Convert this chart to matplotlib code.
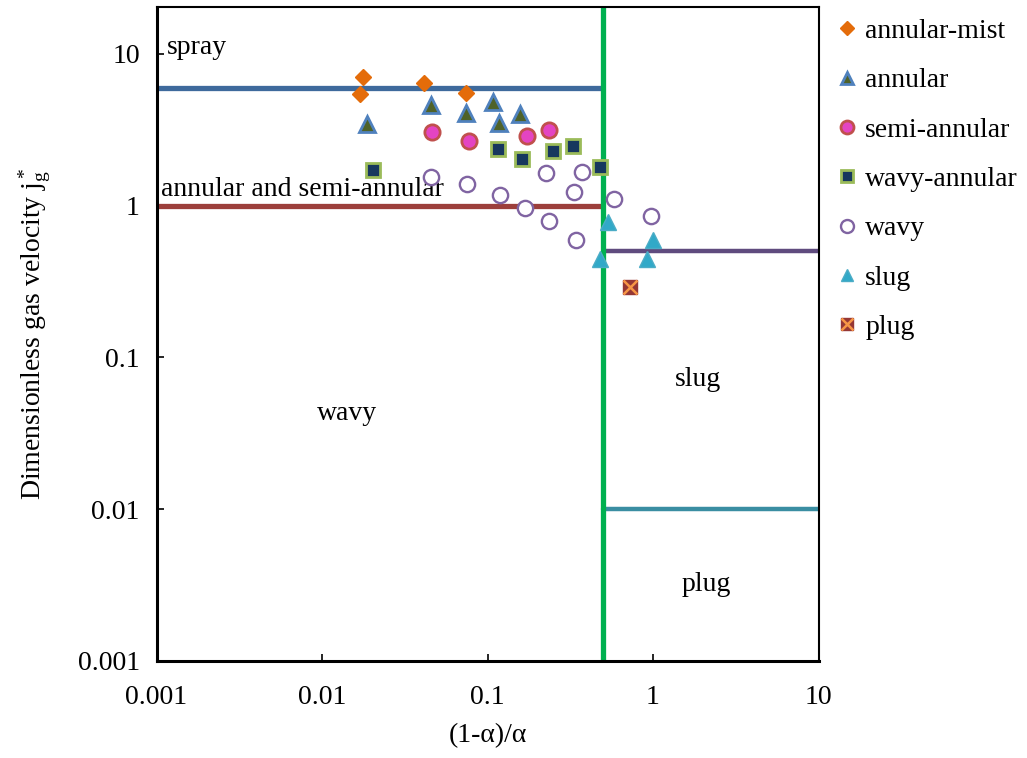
import matplotlib.pyplot as plt

plt.rcParams['font.family'] = ['Liberation Serif', 'DejaVu Serif']
plt.rcParams['mathtext.fontset'] = 'custom'
plt.rcParams['mathtext.rm'] = 'Liberation Serif'
plt.rcParams['mathtext.it'] = 'Liberation Serif:italic'

# flow pattern observations: x = (1-a)/a, y = j_g*
annular_mist_x = [0.0177, 0.0169, 0.0413, 0.0745]
annular_mist_y = [7.08, 5.42, 6.41, 5.50]

annular_x = [0.0186, 0.0454, 0.0745, 0.1086, 0.117, 0.158]
annular_y = [3.45, 4.61, 4.10, 4.84, 3.49, 4.02]

semi_annular_x = [0.0462, 0.0772, 0.1725, 0.236]
semi_annular_y = [3.07, 2.68, 2.89, 3.15]

wavy_annular_x = [0.0204, 0.115, 0.1625, 0.247, 0.328, 0.480]
wavy_annular_y = [1.73, 2.36, 2.03, 2.29, 2.48, 1.80]

wavy_x = [0.0458, 0.0755, 0.119, 0.169, 0.226, 0.234, 0.334, 0.371, 0.341, 0.582, 0.968]
wavy_y = [1.55, 1.38, 1.17, 0.967, 1.64, 0.794, 1.24, 1.67, 0.598, 1.10, 0.853]

slug_x = [0.536, 0.478, 1.0, 0.925]
slug_y = [0.782, 0.448, 0.598, 0.448]

plug_x = [0.726]
plug_y = [0.291]

# regime boundaries
x_trans = 0.5
spray_y = 6.0
annular_y_lim = 1.0
slug_y_lim = 0.5
plug_y_lim = 0.01

FS = 20

fig = plt.figure(figsize=(10.27, 7.58), dpi=100)
ax = fig.add_axes([0.1524, 0.1280, 0.6446, 0.8628])
ax.set_xscale('log')
ax.set_yscale('log')
ax.set_xlim(0.001, 10)
ax.set_ylim(0.001, 20.4)

ax.plot([0.001, x_trans], [spray_y, spray_y], color='#3E6A9C', lw=3.8, solid_capstyle='butt', zorder=2)
ax.plot([0.001, x_trans], [annular_y_lim, annular_y_lim], color='#9C3F3B', lw=3.8, solid_capstyle='butt', zorder=2)
ax.plot([x_trans, 10], [slug_y_lim, slug_y_lim], color='#5F4B7E', lw=3.2, solid_capstyle='butt', zorder=2)
ax.plot([x_trans, 10], [plug_y_lim, plug_y_lim], color='#3A8EA2', lw=3.2, solid_capstyle='round', zorder=2)
ax.axvline(x_trans, color='#00B050', lw=3.8, zorder=2)

h1, = ax.plot(annular_mist_x, annular_mist_y, 'D', ms=8.5, mfc='#E46C0A', mec='#E46C0A', ls='none', zorder=4)
h2, = ax.plot(annular_x, annular_y, '^', ms=11, mfc='#4F6228', mec='#4F81BD', mew=2.0, ls='none', zorder=4)
h3, = ax.plot(semi_annular_x, semi_annular_y, 'o', ms=11, mfc='#E444C2', mec='#C0504D', mew=2.0, ls='none', zorder=4)
h4, = ax.plot(wavy_annular_x, wavy_annular_y, 's', ms=10, mfc='#17375E', mec='#9BBB59', mew=2.0, ls='none', zorder=4)
h5, = ax.plot(wavy_x, wavy_y, 'o', ms=11, mfc='white', mec='#8064A2', mew=1.7, ls='none', zorder=4)
h6, = ax.plot(slug_x, slug_y, '^', ms=11, mfc='#31A9C8', mec='#4BACC6', mew=1.0, ls='none', zorder=4)
h7a, = ax.plot(plug_x, plug_y, 's', ms=10, mfc='#953735', mec='#953735', ls='none', zorder=4)
h7b, = ax.plot(plug_x, plug_y, 'x', ms=10, mec='#F79646', mew=1.8, ls='none', zorder=5)

ax.text(0.00116, 11.1, 'spray', fontsize=FS, va='center', ha='left')
ax.text(0.00106, 1.27, 'annular and semi-annular', fontsize=FS, va='center', ha='left')
ax.text(0.01416, 0.0425, 'wavy', fontsize=FS, va='center', ha='center')
ax.text(1.87, 0.0711, 'slug', fontsize=FS, va='center', ha='center')
ax.text(2.09, 0.00317, 'plug', fontsize=FS, va='center', ha='center')

ax.set_xticks([0.001, 0.01, 0.1, 1, 10])
ax.set_xticklabels(['0.001', '0.01', '0.1', '1', '10'])
ax.set_yticks([0.001, 0.01, 0.1, 1, 10])
ax.set_yticklabels(['0.001', '0.01', '0.1', '1', '10'])
ax.minorticks_off()
ax.tick_params(direction='in', length=5, width=1.2, labelsize=FS)
ax.tick_params(axis='x', pad=17)
ax.tick_params(axis='y', pad=12)
ax.tick_params(top=False, right=False)

ax.spines['left'].set_linewidth(2.2)
ax.spines['bottom'].set_linewidth(2.2)
ax.spines['top'].set_linewidth(1.5)
ax.spines['right'].set_linewidth(1.5)

ax.set_xlabel('(1-α)/α', fontsize=FS, labelpad=10)
ax.set_ylabel(r'Dimensionless gas velocity j$\mathregular{_g^*}$', fontsize=FS, labelpad=18)

fig.legend([h1, h2, h3, h4, h5, h6, (h7a, h7b)],
           ['annular-mist', 'annular', 'semi-annular', 'wavy-annular', 'wavy', 'slug', 'plug'],
           loc='upper left', bbox_to_anchor=(0.806, 0.990), frameon=False, fontsize=FS,
           handlelength=0.6, handletextpad=0.35, labelspacing=0.86, borderaxespad=0,
           markerscale=0.85)

fig.savefig('out.png', dpi=100)
